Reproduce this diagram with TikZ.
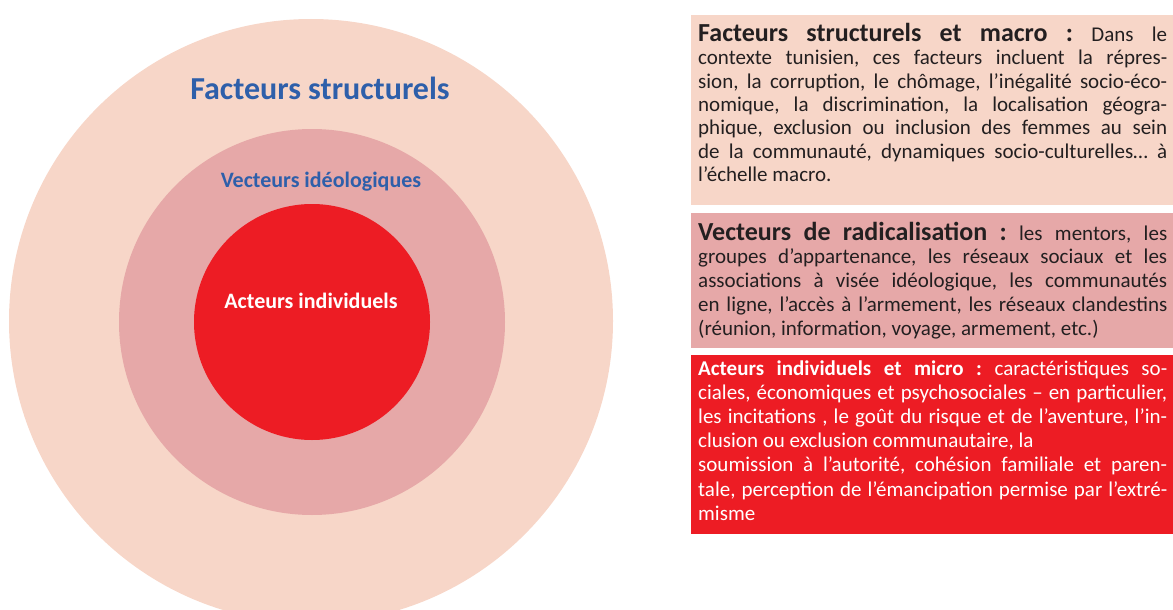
\documentclass[tikz,border=0pt]{standalone}
\usepackage{fontspec}
\setmainfont{Carlito}
\usepackage{tikz}

\definecolor{peche}{HTML}{F7D6C8}
\definecolor{vieuxrose}{HTML}{E6A8A8}
\definecolor{rouge}{HTML}{ED1C24}
\definecolor{bleu}{HTML}{2E5FAA}
\definecolor{encre}{HTML}{231F20}

% one justified line of a text box, the spaces all stretch alike
\newcommand{\ligne}[1]{\makebox[\linewidth][s]{\spaceskip=\fontdimen2\font plus 1fil\relax #1}\par}
\newcommand{\grostitre}[1]{{\fontsize{26}{26}\selectfont\bfseries #1}}
\frenchspacing

\begin{document}
\begin{tikzpicture}[x=1pt,y=-1pt,
   ring/.style={circle,inner sep=0pt,minimum size=#1},
   ringtitle/.style={anchor=base,inner sep=0pt,font=\bfseries},
   cadre/.style={rectangle,inner sep=0pt,anchor=north west,minimum width=482pt},
   texte/.style={anchor=base west,inner sep=0pt,text=encre}]
\useasboundingbox (0,0) rectangle (1173,610);
\clip (0,0) rectangle (1173,610);

% three nested circles
\node[ring=604pt,fill=peche] (structurels) at (311,321) {};
\node[ring=386pt,fill=vieuxrose] (vecteurs) at (312,322) {};
\node[ring=236pt,fill=rouge] (acteurs) at (312,322) {};
\node[ringtitle,text=bleu,font=\fontsize{32}{32}\selectfont\bfseries] (t_structurels) at (320,99.3) {Facteurs structurels};
\node[ringtitle,text=bleu,font=\fontsize{22}{22}\selectfont\bfseries] (t_vecteurs) at (321,187.3) {Vecteurs idéologiques};
\node[ringtitle,text=white,font=\fontsize{22}{22}\selectfont\bfseries] (t_acteurs) at (311,308.7) {Acteurs individuels};

% text boxes on the right
\node[cadre,fill=peche,minimum height=190pt] (b_macro) at (691,15) {};
\node[cadre,fill=vieuxrose,minimum height=135pt] (b_vecteurs) at (691,213) {};
\node[cadre,fill=rouge,minimum height=179pt] (b_micro) at (691,355) {};

\node[texte] (x_macro) at (698,41.7) {\parbox[t]{469pt}{\fontsize{21}{23.3}\selectfont
\ligne{\grostitre{Facteurs structurels et macro :} Dans le}
\ligne{contexte tunisien, ces facteurs incluent la répres-}
\ligne{sion, la corruption, le chômage, l’inégalité socio-éco-}
\ligne{nomique, la discrimination, la localisation géogra-}
\ligne{phique, exclusion ou inclusion des femmes au sein}
\ligne{de la communauté, dynamiques socio-culturelles… à}
l’échelle macro.}};

\node[texte] (x_vecteurs) at (698,240) {\parbox[t]{469pt}{\fontsize{21}{23.75}\selectfont
\ligne{\grostitre{Vecteurs de radicalisation :} les mentors, les}
\ligne{groupes d’appartenance, les réseaux sociaux et les}
\ligne{associations à visée idéologique, les communautés}
\ligne{en ligne, l’accès à l’armement, les réseaux clandestins}
(réunion, information, voyage, armement, etc.)}};

\node[texte,text=white] (x_micro) at (698,375) {\parbox[t]{469pt}{\fontsize{21}{24.2}\selectfont
\ligne{\textbf{Acteurs individuels et micro :} caractéristiques so-}
\ligne{ciales, économiques et psychosociales – en particulier,}
\ligne{les incitations , le goût du risque et de l’aventure, l’in-}
clusion ou exclusion communautaire, la\par
\ligne{soumission à l’autorité, cohésion familiale et paren-}
\ligne{tale, perception de l’émancipation permise par l’extré-}
misme}};
\end{tikzpicture}
\end{document}
